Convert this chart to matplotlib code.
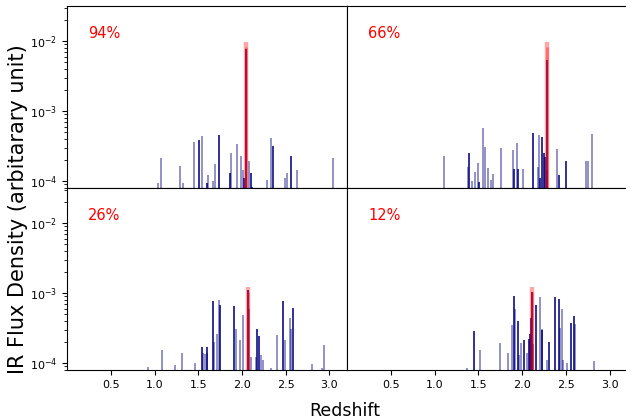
"""Simulated IR line spectra versus redshift for four completeness levels."""

import matplotlib
matplotlib.use("Agg")
import matplotlib.pyplot as plt


PANEL_LABELS = ["94%", "66%", "26%", "12%"]

# line redshift, peak flux, number of overlapping realisations
Z_94 = [1.038, 1.072, 1.286, 1.32, 1.457, 1.51, 1.538, 1.595, 1.61, 1.667, 1.686, 1.739,
        1.858, 1.87, 1.942, 1.984, 2.007, 2.018, 2.048, 2.079, 2.098, 2.12, 2.288, 2.33,
        2.357, 2.49, 2.51, 2.56, 2.628, 3.04]
FLUX_94 = [9.3e-5, 2.1e-4, 1.65e-4, 9.3e-5, 3.65e-4, 3.85e-4, 4.4e-4, 9.5e-5, 1.22e-4, 1.0e-4,
           1.75e-4, 4.5e-4, 1.3e-4, 2.55e-4, 3.4e-4, 2.25e-4, 1.42e-4, 1.1e-4, 7.6e-3, 1.9e-4,
           1.3e-4, 8.3e-5, 1.05e-4, 4.1e-4, 3.15e-4, 1.1e-4, 1.3e-4, 2.25e-4, 1.45e-4, 2.1e-4]
N_94 = [1, 1, 1, 1, 1, 2, 1, 2, 1, 1, 1, 2, 2, 1, 1, 1, 1, 2, 2, 1, 2, 2, 1, 1, 2, 1, 1, 2, 1, 1]

Z_66 = [1.103, 1.385, 1.396, 1.427, 1.458, 1.495, 1.507, 1.549, 1.572, 1.613, 1.648, 1.671,
        1.759, 1.892, 1.904, 1.942, 1.95, 2.014, 2.121, 2.178, 2.193, 2.205, 2.231, 2.247,
        2.265, 2.281, 2.29, 2.396, 2.426, 2.506, 2.727, 2.754, 2.8]
FLUX_66 = [2.28e-4, 1.6e-4, 2.48e-4, 1.0e-4, 1.34e-4, 1.8e-4, 9.7e-5, 5.8e-4, 3.05e-4, 1.55e-4,
           1.05e-4, 1.25e-4, 3.0e-4, 2.75e-4, 1.5e-4, 3.5e-4, 1.5e-4, 1.5e-4, 4.8e-4, 1.57e-4,
           4.5e-4, 1.1e-4, 4.2e-4, 2.55e-4, 2.2e-4, 5.4e-3, 1.45e-4, 2.9e-4, 1.2e-4, 1.95e-4,
           1.9e-4, 1.9e-4, 4.7e-4]
N_66 = [1, 1, 2, 1, 1, 1, 2, 1, 1, 1, 1, 1, 1, 1, 2, 1, 2, 1, 2, 1, 1, 2, 2, 2, 2, 2, 1, 1, 2,
        2, 1, 1, 1]

Z_26 = [0.923, 1.091, 1.229, 1.312, 1.461, 1.541, 1.56, 1.575, 1.595, 1.605, 1.671, 1.68,
        1.716, 1.732, 1.751, 1.911, 1.934, 1.976, 2.01, 2.071, 2.08, 2.102, 2.16, 2.174,
        2.197, 2.22, 2.235, 2.33, 2.403, 2.468, 2.487, 2.552, 2.56, 2.582, 2.796, 2.91, 2.933]
FLUX_26 = [8.7e-5, 1.53e-4, 9.5e-5, 1.39e-4, 1.01e-4, 1.68e-4, 1.39e-4, 1.35e-4, 1.68e-4,
           1.4e-4, 7.7e-4, 2.0e-4, 2.6e-4, 7.9e-4, 6.7e-4, 6.6e-4, 3.1e-4, 2.1e-4, 4.8e-4,
           1.1e-3, 6.0e-4, 1.2e-4, 1.2e-4, 3.1e-4, 2.4e-4, 1.3e-4, 1.1e-4, 8.4e-5, 2.5e-4,
           7.6e-4, 2.1e-4, 4.35e-4, 3.1e-4, 6.2e-4, 9.6e-5, 8.4e-5, 1.8e-4]
N_26 = [1, 1, 1, 1, 1, 2, 1, 1, 2, 1, 2, 1, 1, 1, 2, 2, 1, 1, 1, 2, 1, 1, 1, 2, 2, 1, 1, 1, 1,
        2, 1, 1, 1, 2, 1, 1, 1]

Z_12 = [1.373, 1.453, 1.515, 1.744, 1.839, 1.884, 1.911, 1.92, 1.953, 1.965, 1.987, 2.022,
        2.06, 2.075, 2.086, 2.098, 2.117, 2.13, 2.163, 2.201, 2.224, 2.232, 2.29, 2.308,
        2.373, 2.419, 2.43, 2.453, 2.47, 2.514, 2.563, 2.597, 2.607, 2.823]
FLUX_12 = [8.5e-5, 2.9e-4, 1.52e-4, 1.9e-4, 1.37e-4, 3.5e-4, 9.2e-4, 6.0e-4, 4.0e-4, 1.3e-4,
           1.9e-4, 2.1e-4, 1.4e-4, 2.2e-4, 2.6e-4, 4.35e-4, 1.05e-3, 1.85e-4, 6.7e-4, 8.7e-4,
           3.1e-4, 3.0e-4, 1.1e-4, 2.0e-4, 8.7e-4, 8.1e-4, 3.2e-4, 5.85e-4, 1.1e-4, 1.0e-4,
           3.7e-4, 4.7e-4, 3.6e-4, 1.07e-4]
N_12 = [1, 2, 1, 1, 1, 1, 2, 1, 2, 1, 1, 2, 1, 2, 2, 2, 2, 1, 2, 1, 1, 2, 1, 2, 2, 2, 1, 1, 1,
        1, 2, 2, 1, 1]

# brightest (true) line in each panel
PEAK_Z = [2.048, 2.281, 2.071, 2.117]
PEAK_FLUX = [9.8e-3, 9.8e-3, 1.23e-3, 1.23e-3]

X_TICKS = [0.5, 1.0, 1.5, 2.0, 2.5, 3.0]
X_LIM = (0.0, 3.2)
Y_LIM = (10 ** -4.1, 10 ** -1.5)
FLOOR = 1e-7


def main() -> None:
    fig = plt.figure(figsize=(6.26, 4.19), dpi=100)
    width, height = 280 / 626, 182 / 419
    positions = [
        (67 / 626, 231 / 419),
        (347 / 626, 231 / 419),
        (67 / 626, 49 / 419),
        (347 / 626, 49 / 419),
    ]
    spectra = [(Z_94, FLUX_94, N_94), (Z_66, FLUX_66, N_66), (Z_26, FLUX_26, N_26), (Z_12, FLUX_12, N_12)]

    for index, (left, bottom) in enumerate(positions):
        axis = fig.add_axes([left, bottom, width, height])
        z_values, fluxes, counts = spectra[index]
        for z, flux, count in zip(z_values, fluxes, counts):
            alpha = 0.5 if count == 1 else 0.95
            axis.vlines(z, FLOOR, flux, color="navy", alpha=alpha, linewidth=1.2)
        # tapered red peak: a wide faint line under a narrower stronger one
        axis.vlines(PEAK_Z[index], FLOOR, PEAK_FLUX[index], color="red", alpha=0.35, linewidth=3.2)
        axis.vlines(PEAK_Z[index], FLOOR, PEAK_FLUX[index] * 0.85, color="red", alpha=0.35, linewidth=2)

        axis.set_yscale("log")
        axis.set_xlim(*X_LIM)
        axis.set_ylim(*Y_LIM)
        axis.set_xticks(X_TICKS)
        axis.tick_params(labelsize=8)
        axis.text(0.075, 0.85, PANEL_LABELS[index], color="red", fontsize=10.5,
                  transform=axis.transAxes, va="center", ha="left")

        if index < 2:
            axis.tick_params(axis="x", bottom=False, labelbottom=False)
        if index % 2 == 1:
            axis.tick_params(axis="y", which="both", left=False, labelleft=False)

    fig.text(345 / 626, 8 / 419, "Redshift", ha="center", va="center", fontsize=12.5)
    fig.text(18 / 626, 210 / 419, "IR Flux Density (arbitarary unit)", ha="center", va="center",
             rotation=90, fontsize=15)
    fig.savefig("out.png", dpi=100)


if __name__ == "__main__":
    main()
